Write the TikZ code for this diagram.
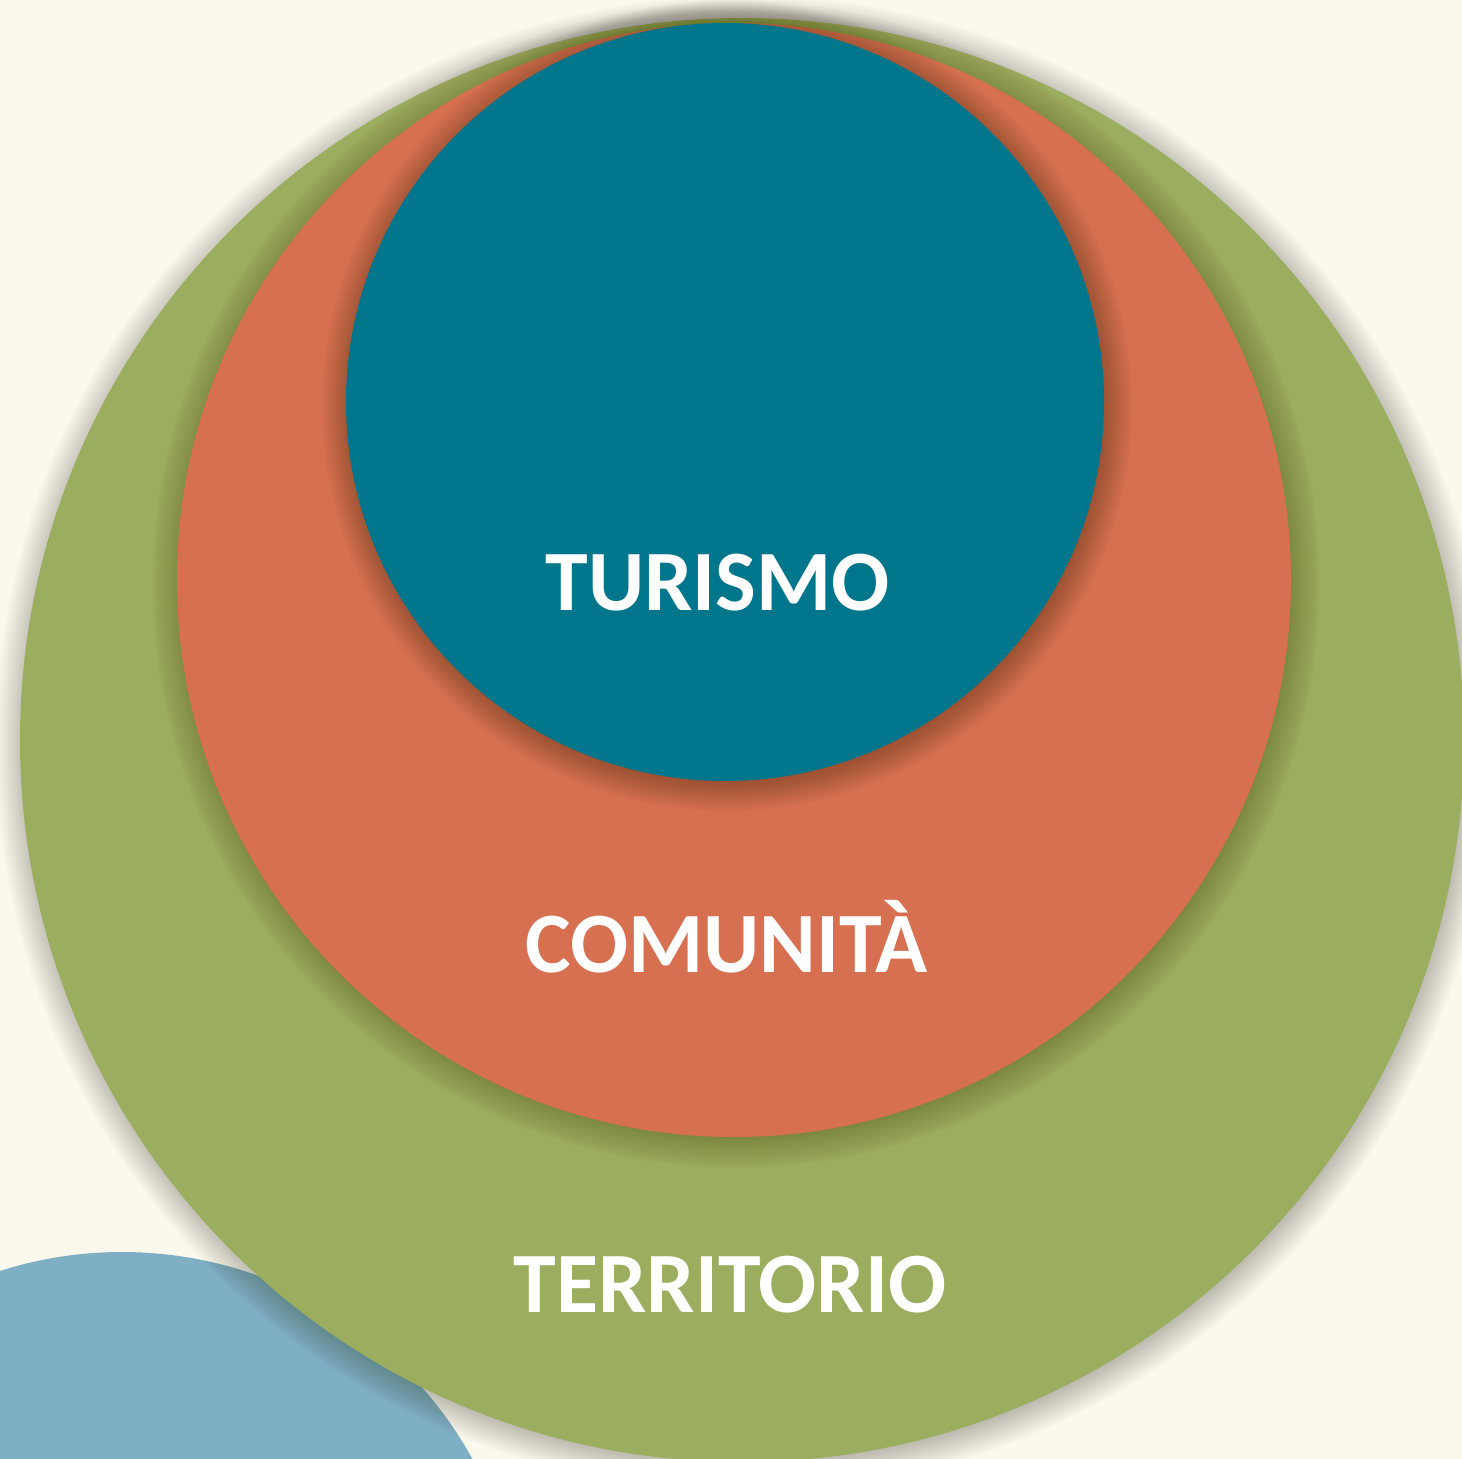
\documentclass[tikz,border=0pt]{standalone}
\usepackage{fontspec}
\setmainfont{Carlito}
\definecolor{bgc}{RGB}{251,249,237}
\definecolor{greenc}{RGB}{155,173,94}
\definecolor{orangec}{RGB}{214,112,80}
\definecolor{tealc}{RGB}{0,118,141}
\definecolor{bluec}{RGB}{127,175,197}
\definecolor{shadowc}{RGB}{40,35,30}
\tikzset{
  lbl/.style={text=white, font=\fontsize{86}{100}\selectfont\bfseries, anchor=base, inner sep=0pt},
}
\newcommand{\softshade}[3]{%
  \foreach \k in {0,...,30}{\fill[shadowc, fill opacity=0.009] (#1,#2) circle[radius=#3+\k-3];}%
}
\begin{document}
\begin{tikzpicture}[x=1pt,y=-1pt]
\useasboundingbox (0,0) rectangle (1462,1459);
\fill[bgc] (0,0) rectangle (1462,1459);
\clip (0,0) rectangle (1462,1459);
% light blue circle behind
\fill[bluec] (122,1652) circle[radius=400];
% green
\softshade{744}{744}{722}
\fill[greenc] (742,740) circle[radius=722];
% orange
\softshade{736}{584}{557}
\fill[orangec] (734,580) circle[radius=557];
% teal
\softshade{727}{406}{379}
\fill[tealc] (725,402) circle[radius=379];
% labels
\node[lbl] (turismo) at (717.5,610) {TURISMO};
\node[lbl] (comunita) at (726.5,972) {COMUNITÀ};
\node[lbl] (territorio) at (730,1312) {TERRITORIO};
\end{tikzpicture}
\end{document}
